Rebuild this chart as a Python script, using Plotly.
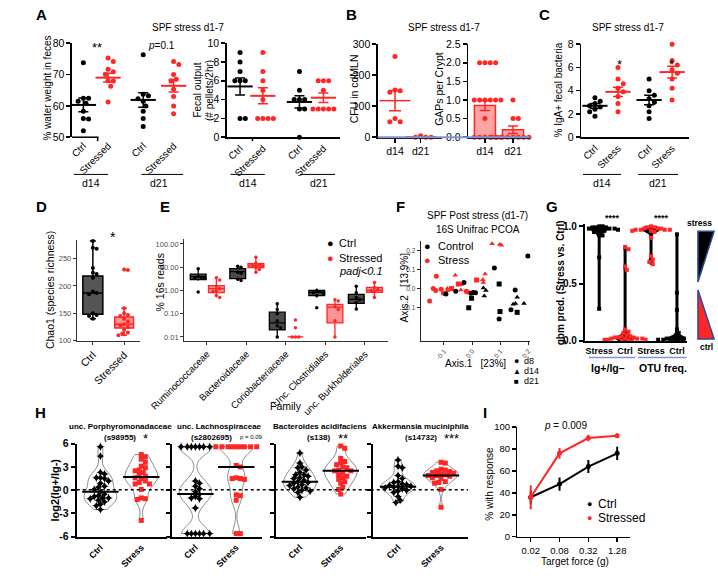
import plotly.graph_objects as go
import numpy as np

W, H = 718, 576
RED = '#ff2626'
BLUE = '#7d97d6'
FONT = 'Arial, Liberation Sans, Helvetica, sans-serif'

# ---------------- DATA ----------------
# A: water weight in feces (%)
grp_labels = ['Ctrl', 'Stressed', 'Ctrl', 'Stressed']
water_d14_ctrl = [73.8, 62.4, 62.4, 61.5, 60.8, 58.3, 56.0, 55.8, 52.1]
water_d14_str = [75.3, 74.2, 71.7, 70.9, 70.0, 68.0, 67.9, 66.3, 61.2]
water_d21_ctrl = [76.3, 63.7, 63.2, 62.3, 61.5, 60.0, 58.3, 56.0, 53.4]
water_d21_str = [74.2, 73.2, 70.0, 68.5, 67.9, 65.3, 63.0, 60.0, 57.5]
water_mean = [60.3, 69.0, 61.9, 66.4]
water_sem = [2.2, 1.4, 2.3, 2.0]
# A: fecal output
fecal_d14_ctrl = [9, 8, 7, 6, 6, 6, 2, 2]
fecal_d14_str = [9, 7, 6, 5, 4, 2, 2, 2, 2]
fecal_d21_ctrl = [7, 5, 4, 4, 4, 3, 3, 0]
fecal_d21_str = [6, 6, 6, 5, 3, 3, 3, 3, 3]
fecal_mean = [5.4, 4.4, 3.75, 4.2]
fecal_sem = [0.9, 0.85, 0.65, 0.5]
# B: CFU in cdMLN
cfu_days = ['d14', 'd21']
cfu_d14 = [260, 152, 150, 145, 60, 50, 50]
cfu_d21 = [5, 0, 0, 0]
cfu_mean = [118, 1.2]
cfu_sem = [33, 1.2]
# B: GAPs per crypt
gaps_d14 = [2, 2, 2, 2, 1, 1, 1, 1, 1, 1, 0.5, 0, 0, 0, 0, 0, 0]
gaps_d21 = [1, 0.5, 0.5, 0, 0, 0, 0, 0, 0, 0, 0, 0]
gaps_mean = [0.85, 0.2]
gaps_sem = [0.13, 0.1]
# C: % IgA+ fecal bacteria
c_labels = ['Ctrl', 'Stress', 'Ctrl', 'Stress']
iga_d14_ctrl = [3.4, 3.1, 2.9, 2.7, 2.6, 2.4, 2.2, 1.8]
iga_d14_str = [6.0, 5.0, 4.6, 4.2, 3.9, 3.5, 2.9, 2.2]
iga_d21_ctrl = [5.0, 4.0, 3.6, 3.3, 3.0, 2.7, 2.2, 1.6]
iga_d21_str = [8.0, 6.6, 6.2, 5.8, 5.5, 5.0, 4.2, 3.2]
iga_mean = [2.7, 3.9, 3.2, 5.6]
iga_sem = [0.2, 0.4, 0.4, 0.5]
# D: Chao1
d_groups = ['Ctrl', 'Stressed']
chao_q1 = [148, 123]
chao_med = [187, 130]
chao_q3 = [218, 143]
chao_lo = [140, 110]
chao_hi = [282, 159]
chao_ctrl_pts = [282, 270, 268, 233, 224, 222, 215, 190, 187, 185, 150, 147, 145, 140]
chao_str_pts = [230, 229, 159, 150, 147, 145, 140, 135, 130, 128, 125, 120, 115, 113, 110]
# E: % 16s reads by family
families = ['Ruminococcaceae', 'Bacteroidaceae', 'Coriobacteriaceae', 'Unc. Clostridiales', 'unc. Burkholderiales']
e_ctrl_q1 = [2.9, 3.2, 0.02, 0.6, 0.28]
e_ctrl_med = [3.9, 6.4, 0.04, 0.82, 0.41]
e_ctrl_q3 = [5.0, 8.6, 0.116, 1.0, 0.68]
e_ctrl_lo = [2.6, 2.7, 0.01, 0.5, 0.155]
e_ctrl_hi = [8.6, 11.5, 0.3, 1.2, 1.5]
e_str_q1 = [0.8, 9.5, 0.01, 0.04, 0.82]
e_str_med = [1.2, 11.5, 0.01, 0.19, 1.0]
e_str_q3 = [1.6, 14.0, 0.01, 0.25, 1.35]
e_str_lo = [0.5, 5.8, 0.01, 0.01, 0.5]
e_str_hi = [3.6, 31.0, 0.01, 0.45, 2.2]
e_ctrl_pts = [[8.6, 4.0, 3.7, 3.5, 3.3, 0.85], [11, 10, 6, 5.5, 3, 2.7],
              [0.27, 0.15, 0.1, 0.05, 0.03, 0.025, 0.01], [1.0, 0.9, 0.8, 0.75, 0.6, 0.18],
              [1.5, 0.8, 0.5, 0.4, 0.3, 0.16]]
e_str_pts = [[3.5, 2.8, 1.5, 1.2, 1.0, 0.9, 0.6, 0.5], [27, 15, 13, 12, 11, 10, 8, 6],
             [0.053, 0.025, 0.01, 0.01, 0.01], [0.4, 0.35, 0.2, 0.15, 0.05, 0.01],
             [2.2, 1.3, 1.1, 1.0, 0.9, 0.5]]
# F: PCoA (x, y, day)
f_ctrl_x = [-0.093, -0.058, -0.029, -0.004, 0.004, 0.012, -0.002, -0.012, 0.040, 0.049, 0.043, 0.079,
            0.096, 0.099, 0.096, 0.138, 0.153, 0.146, 0.154, 0.160, 0.160, 0.184, 0.198]
f_ctrl_y = [-0.028, -0.014, 0.032, -0.024, -0.021, -0.022, -0.051, -0.101, 0.003, -0.010, -0.039, 0.108,
            0.024, -0.121, -0.160, -0.111, -0.007, -0.083, -0.079, -0.046, -0.125, -0.079, 0.171]
f_ctrl_day = ['d8', 'd8', 'd8', 'd8', 'd8', 'd8', 'd21', 'd21', 'd14', 'd14', 'd14', 'd8',
              'd21', 'd21', 'd8', 'd8', 'd8', 'd14', 'd14', 'd14', 'd21', 'd14', 'd8']
f_str_x = [-0.151, -0.127, -0.138, -0.129, -0.110, -0.102, -0.088, -0.088, -0.073, -0.060, -0.049,
           -0.040, -0.040, -0.021, -0.016, 0.016, 0.038, 0.046, 0.040, 0.071, 0.098, 0.104]
f_str_y = [-0.065, 0.065, 0.000, -0.010, -0.003, -0.024, 0.000, -0.012, 0.000, 0.070, 0.024,
           0.020, -0.008, -0.014, -0.018, 0.045, 0.046, 0.076, 0.032, 0.236, 0.232, 0.228]
f_str_day = ['d8', 'd8', 'd8', 'd8', 'd8', 'd8', 'd14', 'd14', 'd21', 'd14', 'd21',
             'd14', 'd14', 'd8', 'd8', 'd21', 'd14', 'd14', 'd14', 'd14', 'd14', 'd14']
# G: gbm prediction
g_labels = ['Stress', 'Ctrl', 'Stress', 'Ctrl']
g_ig_stress = [1.0, 1.0, 0.99, 0.99, 0.99, 0.98, 0.98, 0.98, 0.98, 0.97, 0.97, 0.97, 0.96, 0.96, 0.95, 0.93, 0.92, 0.73, 0.28]
g_ig_ctrl = [0.82, 0.80, 0.65, 0.62, 0.10, 0.08, 0.07, 0.05, 0.04, 0.04, 0.03, 0.03, 0.03, 0.02, 0.02, 0.02, 0.02, 0.01, 0.01, 0.01, 0.01, 0.0, 0.0]
g_otu_stress = [1.0, 0.99, 0.99, 0.98, 0.98, 0.98, 0.97, 0.97, 0.97, 0.97, 0.96, 0.96, 0.95, 0.90, 0.74, 0.71, 0.69, 0.67]
g_otu_ctrl = [0.93, 0.42, 0.27, 0.10, 0.07, 0.04, 0.03, 0.03, 0.02, 0.02, 0.02, 0.02, 0.02, 0.01, 0.01, 0.01, 0.0, 0.0]
# H: log2(Ig+/Ig-)
h1_ctrl = [5.6, 4.4, 2.3, 2.1, 1.6, 1.6, 1.5, 1.2, 0.9, 0.5, 0.4, 0.1, -0.2, -0.5, -0.7, -0.8, -1.0, -1.0, -1.1, -1.3, -1.5, -1.8, -2.0, -2.5]
h1_str = [4.6, 4.3, 4.0, 3.6, 3.1, 2.9, 2.6, 2.5, 2.3, 2.0, 1.8, 1.6, 1.5, 1.2, 1.0, 0.8, 0.8, 0.1, -1.0, -1.1, -1.2, -3.9]
h2_ctrl = [5.6, 5.6, 5.6, 5.6, 5.6, 5.6, 5.6, 1.2, 0.9, 0.5, 0.2, -0.2, -0.5, -0.8, -1.0, -1.1, -2.3,
           -5.6, -5.6, -5.6, -5.6, -5.6, -5.6]
h2_str = [5.6, 5.6, 5.6, 5.6, 5.6, 5.6, 5.6, 5.6, 5.6, 3.2, 3.0, 1.6, 1.5, 1.5, 1.4, -0.6, -0.7, -1.3, -5.6, -5.6]
h3_ctrl = [4.8, 3.5, 3.0, 2.9, 2.6, 2.3, 2.0, 2.0, 1.8, 1.6, 1.5, 1.3, 1.1, 1.0, 0.9, 0.7, 0.6, 0.4, 0.3, 0.2, 0.0, -0.1, -0.3, -0.9]
h3_str = [5.7, 5.4, 4.1, 3.7, 3.5, 3.3, 3.0, 2.9, 2.6, 2.5, 2.5, 2.2, 2.0, 1.8, 1.6, 1.4, 1.1, 0.9, 0.4, 0.1, -0.5]
h4_ctrl = [3.9, 3.1, 2.9, 1.9, 1.5, 1.1, 1.0, 0.8, 0.7, 0.6, 0.5, 0.5, 0.4, 0.3, 0.2, 0.0, -0.1, -0.3, -0.8, -1.3, -1.6]
h4_str = [3.6, 3.5, 2.7, 2.6, 2.5, 2.4, 2.3, 2.2, 2.1, 2.0, 1.9, 1.9, 1.8, 1.6, 1.5, 1.1, 1.0, 0.9, 0.1, -2.2]
h_med_ctrl = [-0.2, -0.5, 1.1, 0.45]
h_med_str = [1.7, 3.0, 2.5, 1.9]
h_bw = [0.8, 1.0, 0.8, 0.6]
# I: von Frey
forces = ['0.02', '0.08', '0.32', '1.28']
resp_ctrl = [36, 48, 64, 76]
resp_ctrl_err = [6, 6, 6, 6]
resp_str = [36, 76, 90, 92]
resp_str_err = [11, 5, 3, 2]

# ---------------- HELPERS ----------------
fig = go.Figure()
shapes, anns, axes = [], [], {}
n_ax = [0]


def base_axis(lc='black', lw=1.5, fs=10, fc='black', tl=4):
    return dict(showgrid=False, zeroline=False, showline=True, linecolor=lc, linewidth=lw,
                ticks='outside', ticklen=tl, tickwidth=lw, tickcolor=lc,
                tickfont=dict(family=FONT, size=fs, color=fc), fixedrange=True)


def new_axes(x0, x1, ytop, ybot, xr, yr, xkw=None, ykw=None, style=None):
    n_ax[0] += 1
    s = '' if n_ax[0] == 1 else str(n_ax[0])
    st = style or {}
    xa = base_axis(**st)
    ya = base_axis(**st)
    xa.update(domain=[x0 / W, x1 / W], range=xr, anchor='y' + s)
    ya.update(domain=[1 - ybot / H, 1 - ytop / H], range=yr, anchor='x' + s)
    if xkw:
        xa.update(xkw)
    if ykw:
        ya.update(ykw)
    axes['xaxis' + s] = xa
    axes['yaxis' + s] = ya
    return 'x' + s, 'y' + s


def text(x, y, t, size=10, color='black', xa='center', ya='middle', angle=0, bold=False):
    if bold:
        t = '<b>' + t + '</b>'
    anns.append(dict(x=x / W, y=1 - y / H, xref='paper', yref='paper', text=t, showarrow=False,
                     xanchor=xa, yanchor=ya, textangle=angle,
                     font=dict(family=FONT, size=size, color=color)))


def line(x0, y0, x1, y1, color='black', width=1.5, dash=None):
    shapes.append(dict(type='line', xref='paper', yref='paper', x0=x0 / W, y0=1 - y0 / H,
                       x1=x1 / W, y1=1 - y1 / H, line=dict(color=color, width=width, dash=dash)))


def path(pts, fill, color, width=1.5):
    p = 'M ' + ' L '.join(f'{x / W:.5f} {1 - y / H:.5f}' for x, y in pts) + ' Z'
    shapes.append(dict(type='path', xref='paper', yref='paper', path=p, fillcolor=fill,
                       line=dict(color=color, width=width)))


def swarm(vals, xppu, yppu, d):
    placed, offs = [], []
    for v in vals:
        yy = v * yppu
        cand = 0.0
        for k in range(0, 80):
            cand = 0.0 if k == 0 else ((k + 1) // 2) * d * 0.5 * (1 if k % 2 else -1)
            if all((cand - a) ** 2 + (yy - b) ** 2 >= d * d for a, b in placed):
                break
        placed.append((cand, yy))
        offs.append(cand / xppu)
    return offs


def dots(xa, ya, xpos, vals, color, xppu, yppu, size=5, d=5.5, symbol='circle', swarm_vals=None):
    sv = swarm_vals if swarm_vals is not None else vals
    offs = swarm(sv, xppu, yppu, d)
    fig.add_trace(go.Scatter(x=[xpos + o for o in offs], y=vals, xaxis=xa, yaxis=ya, mode='markers',
                             marker=dict(color=color, size=size, symbol=symbol, line=dict(width=0)),
                             cliponaxis=False, showlegend=False, hoverinfo='skip'))


def mean_sem(xa, ya, x, m, s, color, mw=18, cap=5, lw=2):
    fig.add_trace(go.Scatter(x=[x], y=[m], xaxis=xa, yaxis=ya, mode='markers',
                             marker=dict(symbol='line-ew', size=mw, color=color, line=dict(color=color, width=lw)),
                             error_y=dict(type='data', array=[s], color=color, thickness=1.5, width=cap),
                             cliponaxis=False, showlegend=False, hoverinfo='skip'))


tf11 = dict(family=FONT, size=10.5, color='black')
tf10 = dict(family=FONT, size=10, color='black')

# ---------------- PANEL A ----------------
text(8, 9, 'A', 15, bold=True)
text(162, 22, 'SPF stress d1-7', 10)
A1_pos = [0, 1, 2.42, 3.65]
xa, ya = new_axes(40, 160, 38, 134, [-0.46, 4.15], [50, 80],
                  xkw=dict(showline=False, ticks='', tickvals=A1_pos, ticktext=grp_labels, tickangle=-45, tickfont=tf10),
                  ykw=dict(tickvals=[50, 60, 70, 80], tickfont=tf11))
line(40, 134, 68, 134)
line(67, 134, 67, 138)
for p, vals, col in zip(A1_pos, [water_d14_ctrl, water_d14_str, water_d21_ctrl, water_d21_str],
                        ['black', RED, 'black', RED]):
    dots(xa, ya, p, vals, col, 26, 96 / 30)
for p, m, s, col in zip(A1_pos, water_mean, water_sem, ['black', RED, 'black', RED]):
    mean_sem(xa, ya, p, m, s, col)
text(14, 84, '% water weight in feces', 10, angle=-90)
text(66, 42, '**', 13)
text(134, 40, '<i>p</i>=0.1', 10)
line(42, 172, 78, 172, width=1)
text(60, 181, 'd14', 10.5)
line(113, 172, 157, 172, width=1)
text(132, 181, 'd21', 10.5)

A2_pos = [0, 1, 2.6, 3.65]
xa, ya = new_axes(203, 322, 38, 134, [-0.58, 4.37], [0, 10],
                  xkw=dict(ticks='', tickvals=A2_pos, ticktext=grp_labels, tickangle=-45, tickfont=tf10),
                  ykw=dict(tickvals=[0, 2, 4, 6, 8, 10], tickfont=tf11))
line(230, 134, 230, 138)
for p, vals, col in zip(A2_pos, [fecal_d14_ctrl, fecal_d14_str, fecal_d21_ctrl, fecal_d21_str],
                        ['black', RED, 'black', RED]):
    dots(xa, ya, p, vals, col, 24, 9.6)
for p, m, s, col in zip(A2_pos, fecal_mean, fecal_sem, ['black', RED, 'black', RED]):
    mean_sem(xa, ya, p, m, s, col)
text(172, 86, 'Fecal output', 10, angle=-90)
text(184, 86, '(# pellets/2hr)', 10, angle=-90)
line(207, 172, 243, 172, width=1)
text(225, 181, 'd14', 10.5)
line(280, 172, 317, 172, width=1)
text(300, 181, 'd21', 10.5)

# ---------------- PANEL B ----------------
text(334, 9, 'B', 15, bold=True)
text(432, 22, 'SPF stress d1-7', 10)
xa, ya = new_axes(362, 430, 39, 134, [-0.67, 1.85], [0, 300],
                  xkw=dict(tickvals=[0, 1], ticktext=cfu_days, tickfont=tf11),
                  ykw=dict(tickvals=[0, 100, 200, 300], tickfont=tf11))
dots(xa, ya, 0, cfu_d14, RED, 27, 95 / 300)
dots(xa, ya, 1, cfu_d21, RED, 27, 95 / 300)
for p, m, s in zip([0, 1], cfu_mean, cfu_sem):
    mean_sem(xa, ya, p, m, s, RED, mw=22, cap=6, lw=1.5)
text(337, 85, 'CFU in cdMLN', 10.5, angle=-90)

xa, ya = new_axes(457, 522, 39, 134, [-0.6, 1.6], [0, 2.5],
                  xkw=dict(tickvals=[0, 1], ticktext=cfu_days, tickfont=tf11),
                  ykw=dict(tickvals=[0, 0.5, 1, 1.5, 2, 2.5], tickformat='.1f', tickfont=tf11))
fig.add_trace(go.Bar(x=[0, 1], y=gaps_mean, xaxis=xa, yaxis=ya, width=0.75,
                     marker=dict(color='rgba(255,90,90,0.55)', line=dict(color=RED, width=1.5)),
                     error_y=dict(type='data', array=gaps_sem, color=RED, thickness=1.5, width=5),
                     showlegend=False, hoverinfo='skip'))
dots(xa, ya, 0, gaps_d14, RED, 29, 38, size=5)
dots(xa, ya, 1, gaps_d21, RED, 29, 38, size=5)
text(427, 85, 'GAPs per Crypt', 10.5, angle=-90)
line(362, 134, 522, 134, color=BLUE, width=2)

# ---------------- PANEL C ----------------
text(537, 9, 'C', 15, bold=True)
text(625, 22, 'SPF stress d1-7', 10)
C_pos = [0, 1, 2.35, 3.35]
xa, ya = new_axes(576, 690, 39, 134, [-0.6, 4.1], [0, 8],
                  xkw=dict(ticks='', tickvals=C_pos, ticktext=c_labels, tickangle=-45, tickfont=tf10),
                  ykw=dict(tickvals=[0, 2, 4, 6, 8], tickfont=tf11))
for p, vals, col in zip(C_pos, [iga_d14_ctrl, iga_d14_str, iga_d21_ctrl, iga_d21_str],
                        ['black', RED, 'black', RED]):
    dots(xa, ya, p, vals, col, 24, 95 / 8)
for p, m, s, col in zip(C_pos, iga_mean, iga_sem, ['black', RED, 'black', RED]):
    mean_sem(xa, ya, p, m, s, col)
text(552, 86, '% IgA+ fecal bacteria', 10, angle=-90)
text(616, 60, '*', 13)
text(671, 60, '*', 13)
line(578, 172, 618, 172, width=1)
text(598, 181, 'd14', 10.5)
line(636, 172, 678, 172, width=1)
text(657, 181, 'd21', 10.5)

# ---------------- PANEL D ----------------
gstyle = dict(lc='#333333', lw=1, fs=7.5, fc='#4d4d4d', tl=3)
text(8, 205, 'D', 15, bold=True)
xa, ya = new_axes(45, 112, 239, 342, [0.485, 2.52], [99.5, 284],
                  xkw=dict(tickvals=[1, 2], ticktext=d_groups, tickangle=-45, tickfont=tf11),
                  ykw=dict(tickvals=[100, 150, 200, 250]), style=gstyle)
fig.add_trace(go.Box(x=[1], q1=[chao_q1[0]], median=[chao_med[0]], q3=[chao_q3[0]],
                     lowerfence=[chao_lo[0]], upperfence=[chao_hi[0]], width=0.64, whiskerwidth=0.3,
                     fillcolor='#555555', line=dict(color='black', width=1.5), boxpoints=False,
                     xaxis=xa, yaxis=ya, showlegend=False, hoverinfo='skip'))
fig.add_trace(go.Box(x=[2], q1=[chao_q1[1]], median=[chao_med[1]], q3=[chao_q3[1]],
                     lowerfence=[chao_lo[1]], upperfence=[chao_hi[1]], width=0.6, whiskerwidth=0.3,
                     fillcolor='rgba(255,110,110,0.75)', line=dict(color=RED, width=1.5), boxpoints=False,
                     xaxis=xa, yaxis=ya, showlegend=False, hoverinfo='skip'))
dots(xa, ya, 1, chao_ctrl_pts, 'black', 33, 0.56, size=4, d=4)
dots(xa, ya, 2, chao_str_pts, RED, 33, 0.56, size=4, d=4)
text(17, 290, 'Chao1 (species richness)', 10.5, angle=-90)
text(83, 236, '*', 14)

# ---------------- PANEL E ----------------
text(138, 205, 'E', 15, bold=True)
xa, ya = new_axes(158, 373, 238, 342, [-0.577, 4.59], [-2.17, 2.21],
                  xkw=dict(tickvals=[0, 1, 2, 3, 4], ticktext=families, tickangle=-45,
                           tickfont=dict(family=FONT, size=9.5, color='black')),
                  ykw=dict(type='log', tickvals=[0.01, 0.1, 1, 10, 100],
                           ticktext=['0.01', '0.10', '1.00', '10.00', '100.00']), style=gstyle)
pos = list(range(5))
fig.add_trace(go.Box(x=[p - 0.22 for p in pos], q1=e_ctrl_q1, median=e_ctrl_med, q3=e_ctrl_q3,
                     lowerfence=e_ctrl_lo, upperfence=e_ctrl_hi, width=0.4, whiskerwidth=0,
                     fillcolor='#4a4a4a', line=dict(color='black', width=1.3), boxpoints=False,
                     xaxis=xa, yaxis=ya, showlegend=False, hoverinfo='skip'))
fig.add_trace(go.Box(x=[p + 0.24 for p in pos], q1=e_str_q1, median=e_str_med, q3=e_str_q3,
                     lowerfence=e_str_lo, upperfence=e_str_hi, width=0.4, whiskerwidth=0,
                     fillcolor='rgba(255,110,110,0.75)', line=dict(color=RED, width=1.3), boxpoints=False,
                     xaxis=xa, yaxis=ya, showlegend=False, hoverinfo='skip'))
for p in pos:
    dots(xa, ya, p - 0.22, e_ctrl_pts[p], 'black', 41.6, 23.6, size=3.5, d=3.5,
         swarm_vals=list(np.log10(e_ctrl_pts[p])))
    dots(xa, ya, p + 0.24, e_str_pts[p], RED, 41.6, 23.6, size=3.5, d=3.5,
         swarm_vals=list(np.log10(e_str_pts[p])))
text(133, 282, '% 16s reads', 10.5, angle=-90)
text(265, 409, 'Family', 10.5)
text(312, 242, '●', 11, 'black')
text(319, 242, 'Ctrl', 11, xa='left')
text(312, 257, '●', 11, RED)
text(319, 257, 'Stressed', 11, xa='left')
text(319, 271, '<i>padj<0.1</i>', 11, xa='left')

# ---------------- PANEL F ----------------
text(386, 205, 'F', 15, bold=True)
text(467, 214, 'SPF Post stress (d1-7)', 10)
text(467, 228, '16S Unifrac PCOA', 10)
fstyle = dict(lc='#222222', lw=1, fs=6.5, fc='#444444', tl=3)
xa, ya = new_axes(407, 522, 240, 342, [-0.183, 0.205], [-0.275, 0.25],
                  xkw=dict(tickvals=[-0.1, 0, 0.1, 0.2], ticktext=['-0.1', '0.0', '0.1', '0.2'], tickangle=-50),
                  ykw=dict(tickvals=[-0.1, 0, 0.1, 0.2], ticktext=['-0.1', '0.0', '0.1', '0.2']), style=fstyle)
sym = {'d8': 'circle', 'd14': 'triangle-up', 'd21': 'square'}
for xs, ys, days, col in [(f_str_x, f_str_y, f_str_day, RED), (f_ctrl_x, f_ctrl_y, f_ctrl_day, 'black')]:
    fig.add_trace(go.Scatter(x=xs, y=ys, xaxis=xa, yaxis=ya, mode='markers',
                             marker=dict(color=col, size=5, symbol=[sym[d] for d in days], line=dict(width=0)),
                             cliponaxis=False, showlegend=False, hoverinfo='skip'))
text(414, 245, '●', 11, 'black')
text(423, 245, 'Control', 11, xa='left')
text(414, 259, '●', 11, RED)
text(423, 259, 'Stress', 11, xa='left')
text(465, 365, 'Axis.1   [23%]', 10)
text(390, 287, 'Axis.2   [13.9%]', 10, angle=-90)
text(508, 363, '●', 9)
text(514, 363, 'd8', 9, xa='left')
text(508, 373, '▲', 8)
text(514, 373, 'd14', 9, xa='left')
text(508, 383, '■', 8)
text(514, 383, 'd21', 9, xa='left')

# ---------------- PANEL G ----------------
text(545, 205, 'G', 15, bold=True)
G_pos = [0, 1, 2, 3]
bfont9 = dict(family=FONT, size=9, color='black')
xa, ya = new_axes(580, 687, 223, 342, [-0.55, 3.37], [0, 1.017],
                  xkw=dict(ticks='', tickvals=G_pos, ticktext=['<b>' + t + '</b>' for t in g_labels], tickfont=bfont9),
                  ykw=dict(tickvals=[0, 0.5, 1.0], ticktext=['<b>0.0</b>', '<b>0.5</b>', '<b>1.0</b>'],
                           tickfont=dict(family=FONT, size=10, color='black')),
                  style=dict(lw=2))
g_data = [g_ig_stress, g_ig_ctrl, g_otu_stress, g_otu_ctrl]
g_cols = ['black', RED, RED, 'black']
for p, vals, col in zip(G_pos, g_data, g_cols):
    fig.add_trace(go.Scatter(x=[p, p], y=[min(vals), max(vals)], xaxis=xa, yaxis=ya, mode='lines',
                             line=dict(color='black', width=3), showlegend=False, hoverinfo='skip'))
    fig.add_trace(go.Violin(y=vals, x0=p, xaxis=xa, yaxis=ya, width=0.7, bandwidth=0.02, spanmode='hard',
                            scalemode='width', fillcolor='black', line=dict(color='black', width=1),
                            points=False, showlegend=False, hoverinfo='skip'))
    dots(xa, ya, p, vals, col, 27.3, 117, size=4, d=3.6, symbol='square')
text(554, 283, 'gbm pred. (Stress vs. Ctrl)', 10, angle=-90, bold=True)
text(609, 217, '****', 9, bold=True)
text(661, 217, '****', 9, bold=True)
line(584, 359, 633, 359, color=BLUE, width=1.5)
line(636, 359, 687, 359, color=BLUE, width=1.5)
text(604, 370, 'Ig+/Ig–', 10.5, bold=True)
text(662, 370, 'OTU freq.', 10.5, bold=True)
path([(699, 230), (716, 230), (699, 282)], 'black', '#2b4a9b')
path([(699, 290), (699, 340), (716, 340)], RED, '#2b4a9b')
text(716, 222, 'stress', 8.5, xa='right', bold=True)
text(699, 348, 'ctrl', 8.5, xa='left', bold=True)

# ---------------- PANEL H ----------------
text(7, 415, 'H', 15, bold=True)
h_dom = [(45, 140), (145, 240), (255, 350), (357, 457)]
h_data = [(h1_ctrl, h1_str), (h2_ctrl, h2_str), (h3_ctrl, h3_str), (h4_ctrl, h4_str)]
for i, ((x0, x1), (hc, hs)) in enumerate(zip(h_dom, h_data)):
    xa, ya = new_axes(x0, x1, 447, 542, [-0.58, 1.63], [-6, 6],
                      xkw=dict(ticks='', tickvals=[0, 1], ticktext=['<b>Ctrl</b>', '<b>Stress</b>'], tickangle=-45,
                               tickfont=bfont9),
                      ykw=dict(tickvals=[-6, -3, 0, 3, 6], ticktext=['<b>-6</b>', '<b>-3</b>', '<b>0</b>', '<b>3</b>', '<b>6</b>'],
                               tickfont=dict(family=FONT, size=10.5, color='black'), showticklabels=(i == 0)),
                      style=dict(lw=2))
    for p, vals, col, symb, med in [(0, hc, 'black', 'star-diamond', h_med_ctrl[i]),
                                     (1, hs, RED, 'square', h_med_str[i])]:
        fig.add_trace(go.Violin(y=vals, x0=p, xaxis=xa, yaxis=ya, width=0.8, bandwidth=h_bw[i], spanmode='hard',
                                scalemode='width', fillcolor='rgba(255,255,255,0)', line=dict(color='#8c8c8c', width=1),
                                points=False, showlegend=False, hoverinfo='skip'))
        dots(xa, ya, p, vals, col, 43, 7.9, size=5 if symb == 'square' else 6, d=4.3, symbol=symb)
        fig.add_trace(go.Scatter(x=[p], y=[med], xaxis=xa, yaxis=ya, mode='markers',
                                 marker=dict(symbol='line-ew', size=26, line=dict(color='black', width=2)),
                                 showlegend=False, hoverinfo='skip'))
line(45, 494, 457, 494, width=1.5, dash='dot')
text(91, 429, 'unc. Porphyromonadaceae', 8, bold=True)
text(91, 441, '(s98955)', 8, bold=True)
text(117, 442, '*', 13)
text(195, 429, 'unc. Lachnospiraceae', 8, bold=True)
text(187, 441, '(s2802695)', 8, bold=True)
text(229, 440, 'p = 0.09', 6)
text(301, 429, 'Bacteroides acidifaciens', 8, bold=True)
text(300, 441, '(s138)', 8, bold=True)
text(325, 442, '**', 13)
text(407, 429, 'Akkermansia muciniphila', 8, bold=True)
text(407, 441, '(s14732)', 8, bold=True)
text(440, 442, '***', 13)
text(22, 494, 'log2(Ig+/Ig-)', 11, angle=-90, bold=True)

# ---------------- PANEL I ----------------
text(475, 415, 'I', 15, bold=True)
xa, ya = new_axes(509, 627, 430, 542, [-0.46, 3.43], [0, 100],
                  xkw=dict(tickvals=[0, 1, 2, 3], ticktext=forces, tickfont=dict(family=FONT, size=9.5, color='black')),
                  ykw=dict(tickvals=[0, 20, 40, 60, 80, 100], tickfont=dict(family=FONT, size=9.5, color='black')))
for vals, err, col in [(resp_ctrl, resp_ctrl_err, 'black'), (resp_str, resp_str_err, RED)]:
    fig.add_trace(go.Scatter(x=[0, 1, 2, 3], y=vals, xaxis=xa, yaxis=ya, mode='lines+markers',
                             line=dict(color=col, width=2), marker=dict(color=col, size=5),
                             error_y=dict(type='data', array=err, color=col, thickness=2, width=0),
                             cliponaxis=False, showlegend=False, hoverinfo='skip'))
text(560, 428, '<i>p</i> = 0.009', 10)
text(585, 509, '●', 9, 'black')
text(592, 509, 'Ctrl', 12, xa='left')
text(585, 523, '●', 9, RED)
text(592, 523, 'Stressed', 12, xa='left')
text(570, 567, 'Target force (g)', 10)
text(480, 488, '% with response', 10, angle=-90)

fig.update_layout(width=W, height=H, margin=dict(l=0, r=0, t=0, b=0), paper_bgcolor='white',
                  plot_bgcolor='rgba(0,0,0,0)', showlegend=False, violinmode='overlay', boxmode='overlay',
                  barmode='overlay', shapes=shapes, annotations=anns, font=dict(family=FONT), **axes)
fig.write_html('out.html', config={'displayModeBar': False, 'staticPlot': True},
               post_script="document.body.style.margin='0px';")
